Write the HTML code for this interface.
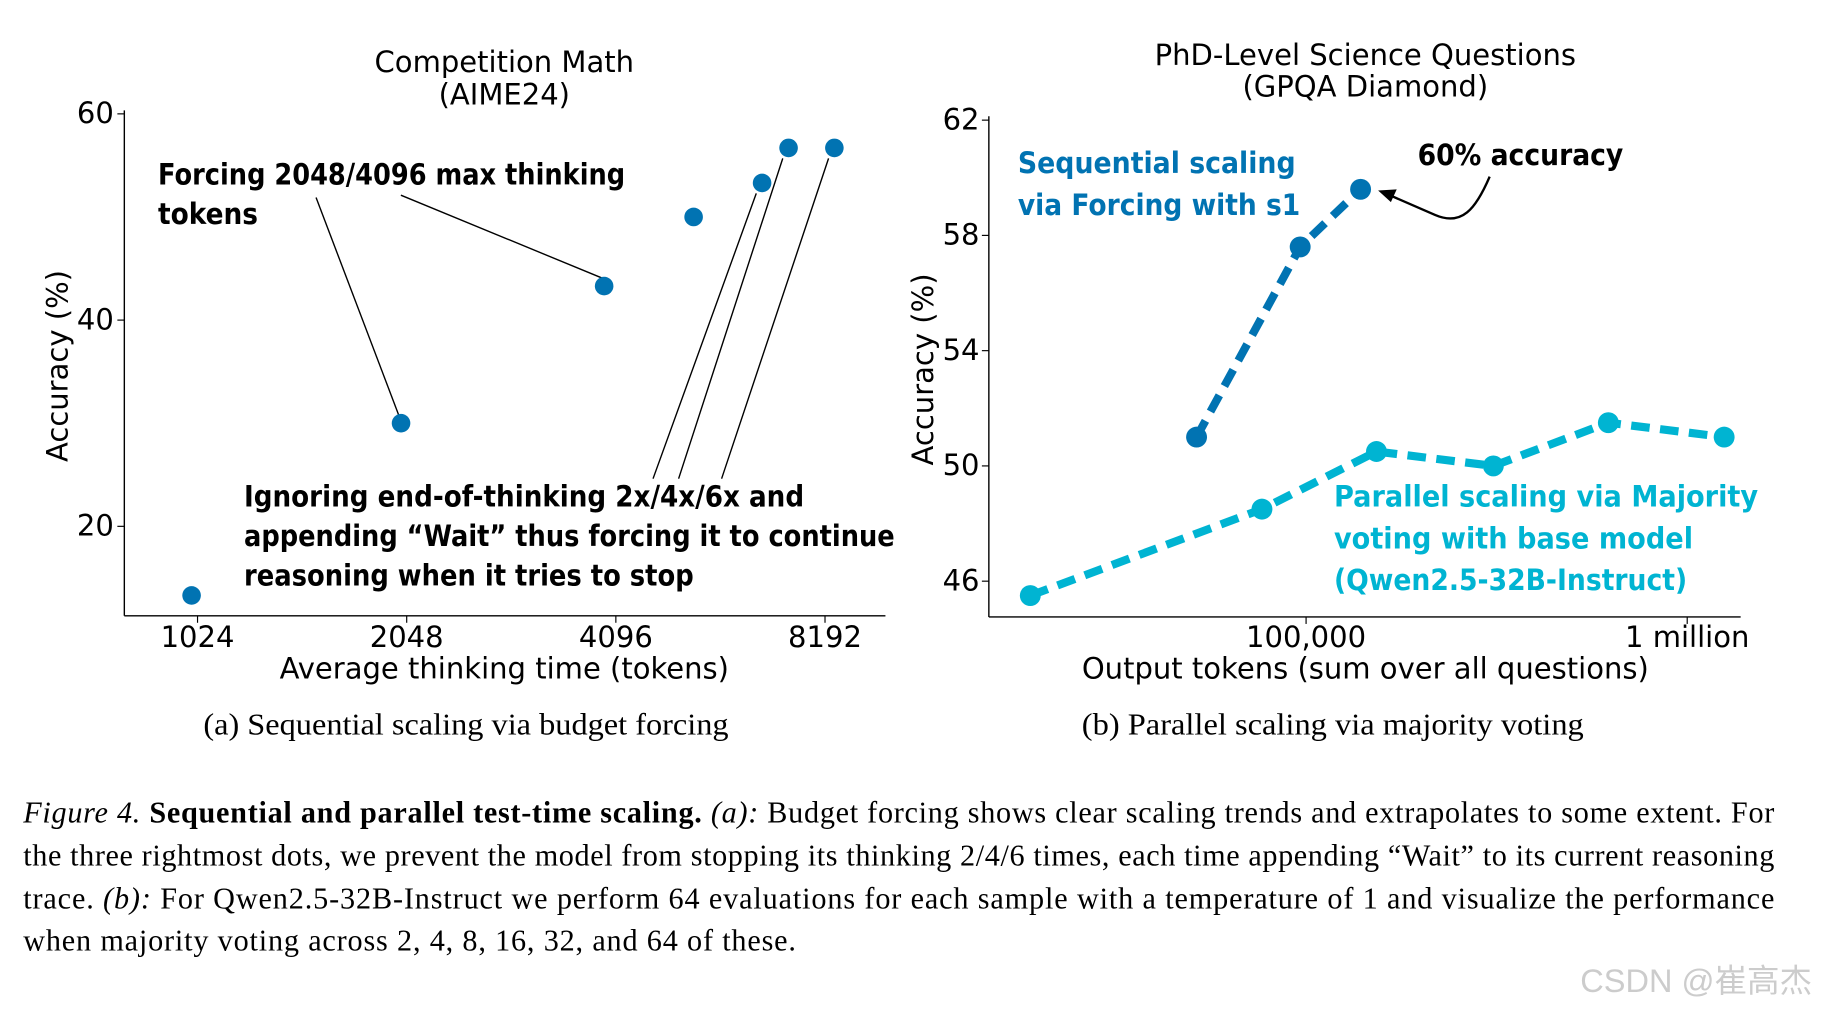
<!DOCTYPE html>
<html><head><meta charset="utf-8"><style>
html,body{margin:0;padding:0;background:#fff;}
svg{display:block;}
.t{font-family:"DejaVu Sans","Liberation Sans",sans-serif;}
.s{font-family:"Liberation Serif",serif;}
</style></head><body>
<svg id="fig" width="1822" height="1012" viewBox="0 0 1568 871" preserveAspectRatio="none">
<rect width="1568" height="871" fill="#fff"/>
<g id="left"></g>
<g id="right"></g>
<g class="s" font-size="26" fill="#000">
<text x="20" y="708" textLength="1507" lengthAdjust="spacing"><tspan font-style="italic">Figure 4.</tspan> <tspan font-weight="bold">Sequential and parallel test-time scaling.</tspan> <tspan font-style="italic">(a):</tspan> Budget forcing shows clear scaling trends and extrapolates to some extent. For</text>
<text x="20" y="745" textLength="1507" lengthAdjust="spacing">the three rightmost dots, we prevent the model from stopping its thinking 2/4/6 times, each time appending “Wait” to its current reasoning</text>
<text x="20" y="782" textLength="1507" lengthAdjust="spacing">trace. <tspan font-style="italic">(b):</tspan> For Qwen2.5-32B-Instruct we perform 64 evaluations for each sample with a temperature of 1 and visualize the performance</text>
<text x="20" y="818" textLength="665" lengthAdjust="spacing">when majority voting across 2, 4, 8, 16, 32, and 64 of these.</text>
</g>
<text x="1360" y="854" font-size="28" fill="#ccc" font-family="Liberation Sans,'Noto Sans CJK SC',sans-serif">CSDN @崔高杰</text>
</svg>
<script>
// Left chart data
const aimeTokens=[1004,2010,3940,5300,6650,7260,8450];
const aimeAcc=[13.3,30.0,43.3,50.0,53.3,56.7,56.7];
const aimeYTicks=[20,40,60];
const aimeXTicks=[1024,2048,4096,8192];
// Right chart data
const seqTokens=[51600,96500,139000];
const seqAcc=[51.0,57.6,59.6];
const parTokens=[18900,76600,153000,310000,621000,1250000];
const parAcc=[45.5,48.5,50.5,50.0,51.5,51.0];
const gpqaYTicks=[46,50,54,58,62];
const gpqaXTicks=[100000,1000000];
const gpqaXLabels=["100,000","1 million"];

const NS="http://www.w3.org/2000/svg";
function mk(p,tag,attrs,txt){const e=document.createElementNS(NS,tag);for(const k in attrs)e.setAttribute(k,attrs[k]);if(txt!==undefined)e.textContent=txt;p.appendChild(e);return e;}
function bt(p,x,y,w,txt,fill){return mk(p,'text',{x:x,y:y,'font-size':25,'font-weight':'bold',class:'t',fill:fill||'#000',textLength:w,lengthAdjust:'spacingAndGlyphs'},txt);}

// left axes
const L=document.getElementById('left');
const lx=v=>170+180*Math.log2(v/1024);
const ly=v=>453-(v-20)*8.875;
let e;
e=mk(L,'line',{x1:107,y1:95,x2:107,y2:530,stroke:'#000','stroke-width':1.2});

e=mk(L,'line',{x1:107,y1:530,x2:762,y2:530,stroke:'#000','stroke-width':1.2});

aimeYTicks.forEach(v=>{mk(L,'line',{x1:101,y1:ly(v),x2:107,y2:ly(v),stroke:'#000'});
 e=mk(L,'text',{x:98,y:ly(v)+8,'text-anchor':'end','font-size':25,class:'t'},String(v));
 });
aimeXTicks.forEach(v=>{mk(L,'line',{x1:lx(v),y1:530,x2:lx(v),y2:536,stroke:'#000'});
 e=mk(L,'text',{x:lx(v),y:557,'text-anchor':'middle','font-size':25,class:'t'},String(v));
 });
e=mk(L,'text',{x:434,y:62,'text-anchor':'middle','font-size':25,class:'t'},'Competition Math');

mk(L,'text',{x:434,y:90,'text-anchor':'middle','font-size':25,class:'t'},'(AIME24)');
e=mk(L,'text',{x:434,y:584,'text-anchor':'middle','font-size':25,class:'t'},'Average thinking time (tokens)');

e=mk(L,'text',{x:0,y:0,'text-anchor':'middle','font-size':25,class:'t',transform:'translate(58,315) rotate(-90)'},'Accuracy (%)');

[[272,170,1],[345,168,2]].forEach(a=>{const i=a[2];mk(L,'line',{x1:a[0],y1:a[1],x2:lx(aimeTokens[i])-2,y2:ly(aimeAcc[i])-7,stroke:'#000','stroke-width':1.2});});
[[562,412,4],[584,412,5],[621,412,6]].forEach(a=>{mk(L,'line',{x1:a[0],y1:a[1],x2:lx(aimeTokens[a[2]])-5,y2:ly(aimeAcc[a[2]])+9,stroke:'#000','stroke-width':1.2});});
aimeTokens.forEach((t,i)=>{e=mk(L,'circle',{cx:lx(t),cy:ly(aimeAcc[i]),r:8,fill:'#0173b2'});
 });
e=bt(L,136,159,402,'Forcing 2048/4096 max thinking');

bt(L,136,193,86,'tokens');
e=bt(L,210,436,482,'Ignoring end-of-thinking 2x/4x/6x and');

bt(L,210,470,560,'appending “Wait” thus forcing it to continue');
bt(L,210,504,387,'reasoning when it tries to stop');
e=mk(L,'text',{x:401,y:632,'text-anchor':'middle','font-size':26,class:'s',textLength:452,lengthAdjust:'spacingAndGlyphs'},'(a) Sequential scaling via budget forcing');


// right
const R=document.getElementById('right');
const rx=v=>1124+328*Math.log10(v/100000);
const ry=v=>401-(v-50)*24.8;
e=mk(R,'line',{x1:851,y1:100,x2:851,y2:531,stroke:'#000','stroke-width':1.2});

e=mk(R,'line',{x1:851,y1:531,x2:1498,y2:531,stroke:'#000','stroke-width':1.2});

gpqaYTicks.forEach(v=>{mk(R,'line',{x1:845,y1:ry(v),x2:851,y2:ry(v),stroke:'#000'});
 e=mk(R,'text',{x:843,y:ry(v)+8,'text-anchor':'end','font-size':25,class:'t'},String(v));
 });
gpqaXTicks.forEach((v,i)=>{mk(R,'line',{x1:rx(v),y1:531,x2:rx(v),y2:537,stroke:'#000'});
 e=mk(R,'text',{x:rx(v),y:557,'text-anchor':'middle','font-size':25,class:'t'},gpqaXLabels[i]);
 });
e=mk(R,'text',{x:1175,y:56,'text-anchor':'middle','font-size':25,class:'t'},'PhD-Level Science Questions');

mk(R,'text',{x:1175,y:83,'text-anchor':'middle','font-size':25,class:'t'},'(GPQA Diamond)');
e=mk(R,'text',{x:1175,y:584,'text-anchor':'middle','font-size':25,class:'t'},'Output tokens (sum over all questions)');

e=mk(R,'text',{x:0,y:0,'text-anchor':'middle','font-size':25,class:'t',transform:'translate(803,318) rotate(-90)'},'Accuracy (%)');

function series(xs,ys,col,name){
 e=mk(R,'polyline',{points:xs.map((t,i)=>rx(t)+','+ry(ys[i])).join(' '),fill:'none',stroke:col,'stroke-width':7,'stroke-dasharray':'16,9'});
 
 xs.forEach((t,i)=>{e=mk(R,'circle',{cx:rx(t),cy:ry(ys[i]),r:9,fill:col});
  });
}
series(parTokens,parAcc,'#00b4d2','parallel');
series(seqTokens,seqAcc,'#0173b2','sequential');
e=bt(R,876,149,239,'Sequential scaling','#0173b2');

bt(R,876,185,243,'via Forcing with s1','#0173b2');
e=bt(R,1220,142,177,'60% accuracy');

e=bt(R,1148,436,365,'Parallel scaling via Majority','#00b4d2');

bt(R,1148,472,309,'voting with base model','#00b4d2');
bt(R,1148,508,304,'(Qwen2.5-32B-Instruct)','#00b4d2');
mk(R,'path',{d:'M1282,152 C1270,180 1258,195 1235,185 L1196,168',fill:'none',stroke:'#000','stroke-width':2});
mk(R,'path',{d:'M1186,164 L1202,163 L1197,174 Z',fill:'#000'});
e=mk(R,'text',{x:1147,y:632,'text-anchor':'middle','font-size':26,class:'s',textLength:432,lengthAdjust:'spacingAndGlyphs'},'(b) Parallel scaling via majority voting');

</script>
</body></html>
